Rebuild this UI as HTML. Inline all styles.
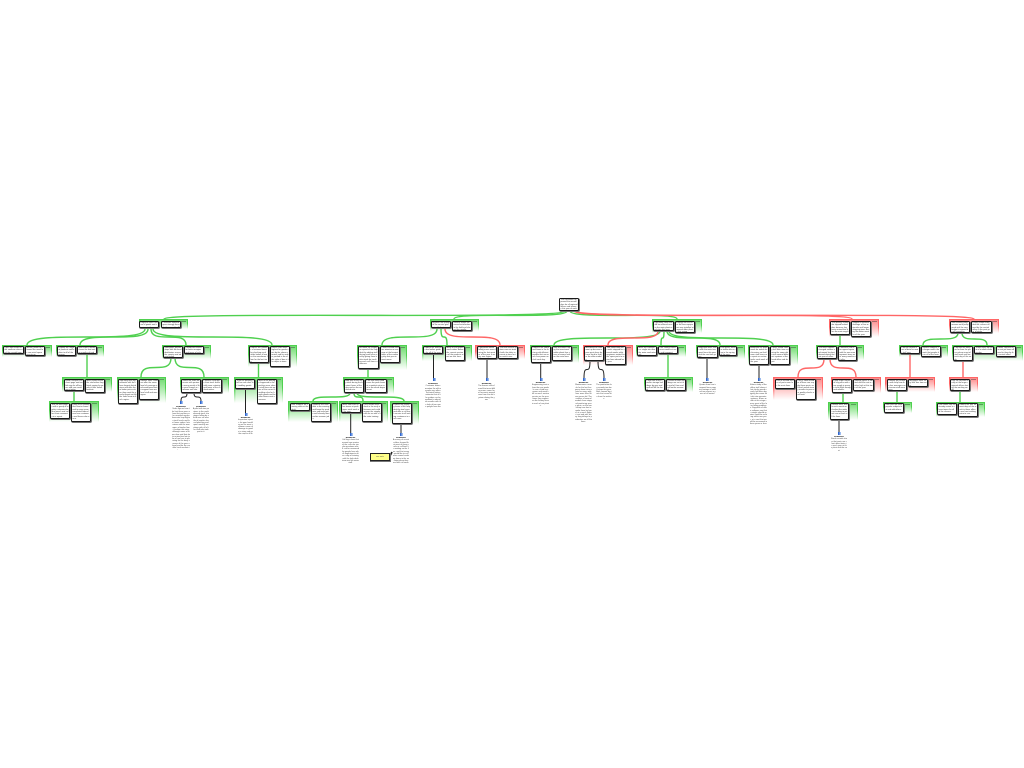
<!DOCTYPE html>
<html lang="en"><head><meta charset="utf-8"><title>Diagram</title>
<style>
html,body{margin:0;padding:0;background:#fff;width:1024px;height:768px;overflow:hidden}
body{position:relative;font-family:"Liberation Sans",sans-serif}
svg{position:absolute;left:0;top:0}
.g,.r{position:absolute;box-sizing:border-box;border-top:1px solid #4fd04f;
background:linear-gradient(#4fd04f 40%,#fff) 0 0/1.5px 100% no-repeat,linear-gradient(#4fd04f 40%,#fff) 100% 0/1.5px 100% no-repeat,linear-gradient(#6fdc6f,#fff)}
.r{border-top-color:#f66;background:linear-gradient(#f66 40%,#fff) 0 0/1.5px 100% no-repeat,linear-gradient(#f66 40%,#fff) 100% 0/1.5px 100% no-repeat,linear-gradient(#ff8a8a,#fff)}
.g:after,.r:after{content:"";position:absolute;right:2px;top:1px;width:5px;height:1px;background:#5a9a5a}
.r:after{background:#a86a6a}
.b{position:absolute;box-sizing:border-box;background:#fff;border:1px solid #1a1a1a;border-radius:1.5px;box-shadow:.6px .6px 0 .4px #777;font-size:2px;line-height:2.3px;padding:.2px .5px;overflow:hidden;color:#333;word-break:break-all}
.n{position:absolute;text-align:center;font-size:2px;line-height:2.3px;overflow:hidden;color:#444;word-break:break-all}
.n b{display:block;color:#000;font-size:2.2px}
.i{position:absolute;width:4px;height:3px;background:linear-gradient(90deg,#fff 20%,#2f66d0 20%,#2f66d0 60%,#9cbcf0 60%)}
.y{position:absolute;left:370px;top:453px;width:20px;height:8px;box-sizing:border-box;background:#ff8;border:1px solid #222;box-shadow:.5px .5px 0 .5px #777;font-size:2px;line-height:6px;text-align:center;color:#555}
</style></head><body>

<div class="g" style="left:139px;top:319px;width:49px;height:10px"></div>
<div class="g" style="left:430px;top:319px;width:49px;height:12px"></div>
<div class="g" style="left:652px;top:319px;width:50px;height:14px"></div>
<div class="r" style="left:829px;top:319px;width:50px;height:18px"></div>
<div class="r" style="left:949px;top:319px;width:50px;height:14px"></div>

<div class="g" style="left:2px;top:345px;width:50px;height:12px"></div>
<div class="g" style="left:56px;top:345px;width:48px;height:12px"></div>
<div class="g" style="left:162px;top:345px;width:49px;height:14px"></div>
<div class="g" style="left:248px;top:345px;width:49px;height:22px"></div>
<div class="g" style="left:357px;top:345px;width:50px;height:25px"></div>
<div class="g" style="left:422px;top:345px;width:50px;height:16px"></div>
<div class="r" style="left:475px;top:345px;width:50px;height:14px"></div>
<div class="g" style="left:530px;top:345px;width:49px;height:18px"></div>
<div class="r" style="left:583px;top:345px;width:50px;height:20px"></div>
<div class="g" style="left:636px;top:345px;width:50px;height:12px"></div>
<div class="g" style="left:696px;top:345px;width:49px;height:14px"></div>
<div class="g" style="left:748px;top:345px;width:50px;height:20px"></div>
<div class="g" style="left:816px;top:345px;width:48px;height:15px"></div>
<div class="g" style="left:899px;top:345px;width:49px;height:12px"></div>
<div class="g" style="left:952px;top:345px;width:71px;height:16px"></div>

<div class="g" style="left:62px;top:377px;width:50px;height:15px"></div>
<div class="g" style="left:117px;top:377px;width:49px;height:26px"></div>
<div class="g" style="left:180px;top:377px;width:49px;height:16px"></div>
<div class="g" style="left:234px;top:377px;width:49px;height:26px"></div>
<div class="g" style="left:343px;top:377px;width:51px;height:17px"></div>
<div class="g" style="left:644px;top:377px;width:49px;height:15px"></div>
<div class="r" style="left:773px;top:377px;width:50px;height:23px"></div>
<div class="r" style="left:831px;top:377px;width:50px;height:16px"></div>
<div class="r" style="left:885px;top:377px;width:50px;height:15px"></div>
<div class="r" style="left:949px;top:377px;width:29px;height:15px"></div>

<div class="g" style="left:49px;top:401px;width:50px;height:21px"></div>
<div class="g" style="left:288px;top:401px;width:50px;height:21px"></div>
<div class="g" style="left:339px;top:401px;width:49px;height:21px"></div>
<div class="g" style="left:390px;top:401px;width:29px;height:23px"></div>
<div class="g" style="left:828px;top:402px;width:30px;height:18px"></div>
<div class="g" style="left:883px;top:402px;width:29px;height:11px"></div>
<div class="g" style="left:936px;top:402px;width:49px;height:15px"></div>

<svg width="1024" height="768" viewBox="0 0 1024 768" fill="none">
<g stroke="#4fd04f" stroke-width="1.4">
<path d="M565 311C565 320 164 311 164 319"/>
<path d="M567 311C567 320 454 311 454 319"/>
<path d="M570 311C570 320 677 311 677 319"/>
<path d="M145 329C145 345 27 329 27 345"/>
<path d="M148 329C148 345 80 329 80 345"/>
<path d="M151 329C151 345 186 329 186 345"/>
<path d="M153 329C153 345 272 329 272 345"/>
<path d="M437 329C437 345 382 329 382 345"/>
<path d="M441 329C441 345 447 329 447 345"/>
<path d="M660 331C660 345 554 331 554 345"/>
<path d="M664 331C664 345 661 331 661 345"/>
<path d="M667 331C667 345 720 331 720 345"/>
<path d="M669 331C669 345 773 331 773 345"/>
<path d="M958 333C958 345 923 333 923 345"/>
<path d="M962 333C962 345 987 333 987 345"/>
<path d="M171 358C171 377 141 358 141 377"/>
<path d="M175 358C175 377 204 358 204 377"/>
<path d="M350 393C350 401 313 393 313 401"/>
<path d="M354 393C354 401 363 393 363 401"/>
<path d="M357 393C357 401 404 393 404 401"/>
<path d="M87 354V377M258.500 363V377M74 391V401M368 369V377M668 354V377M840 335V345M843 393V402M897 391V402M960 391V402"/>
</g>
<g stroke="#f66" stroke-width="1.4">
<path d="M574 311C574 320 852 311 852 319"/>
<path d="M576 311C576 320 974 311 974 319"/>
<path d="M445 329C445 345 500 329 500 345"/>
<path d="M658 331C658 345 608 331 608 345"/>
<path d="M824 359C824 377 798 359 798 377"/>
<path d="M830 359C830 377 856 359 856 377"/>
<path d="M910 354V377M963 361V377"/>
</g>
<g stroke="#222" stroke-width="1">
<path d="M187 393C187 401 181 393 181 401"/>
<path d="M194 393C194 401 201 393 201 401"/>
<path d="M590 361C590 378 584 361 584 378"/>
<path d="M598 361C598 378 604 361 604 378"/>
<path d="M245.500 389V413M433.500 354V378M487 359V378M350.700 413V433M401 424V433M540.700 363V378M707 358V378M759 365V378M839 420V432"/>
<path d="M390 456L392 452" stroke-width="1.600"/>
</g>
</svg>

<div class="b" style="left:559px;top:298px;width:20px;height:13px">The committee approved the annual plan for all regional offices and teams in this year of work.</div>

<div class="b" style="left:139px;top:321px;width:20px;height:7px">Regional sales review of goods and services in the area.</div>
<div class="b" style="left:161px;top:321px;width:20px;height:7px">Customer demand grew strongly through the second half.</div>
<div class="b" style="left:431px;top:321px;width:20px;height:7px">Improve the quality of the service given to all clients.</div>
<div class="b" style="left:452px;top:321px;width:20px;height:10px">Service teams measured satisfaction in the field and shared the results.</div>
<div class="b" style="left:653px;top:321px;width:21px;height:10px">Operating costs should be reduced across the main plants and sites this year.</div>
<div class="b" style="left:675px;top:321px;width:20px;height:12px">Energy use fell after the new equipment was installed at several older plants last spring.</div>
<div class="b" style="left:830px;top:321px;width:20px;height:14px">The delivery schedule slipped behind plan because key parts arrived late from the main supplier in the east.</div>
<div class="b" style="left:851px;top:321px;width:20px;height:16px">Suppliers reported shortage of raw materials and longer shipping times during the winter months of the year.</div>
<div class="b" style="left:950px;top:321px;width:20px;height:12px">Staff training programmes were postponed until the new budget is agreed by all managers.</div>
<div class="b" style="left:971px;top:321px;width:21px;height:12px">Fewer people attended the courses offered by the central office in the past year of study.</div>

<div class="b" style="left:3px;top:346px;width:21px;height:8px">Open new stores in the southern cities and the coastal towns.</div>
<div class="b" style="left:25px;top:346px;width:20px;height:10px">Market research showed the need for new retail space near to us.</div>
<div class="b" style="left:57px;top:346px;width:19px;height:10px">Expand the range of products sold online to all of the buyers.</div>
<div class="b" style="left:77px;top:346px;width:20px;height:8px">Web orders doubled over the last twelve months of trade.</div>
<div class="b" style="left:163px;top:346px;width:20px;height:12px">Strengthen partnerships with the local distributors across the country and abroad today.</div>
<div class="b" style="left:184px;top:346px;width:20px;height:8px">Distributors asked for better margins and terms of sale.</div>
<div class="b" style="left:249px;top:346px;width:20px;height:17px">Reduce the number of returned items by checking each order before it leaves the warehouse floor for the last time.</div>
<div class="b" style="left:270px;top:346px;width:20px;height:21px">Return rates were highest for goods sent by the slower carriers and for orders packed in the older style of box at the depot in town.</div>
<div class="b" style="left:358px;top:346px;width:21px;height:23px">Increase the response speed of the help desk by adding staff during peak hours and by giving them better tools for tracking each call from customers.</div>
<div class="b" style="left:380px;top:346px;width:20px;height:17px">Callers waited over ten minutes on average at the busiest times of the working day last year in most areas.</div>
<div class="b" style="left:423px;top:346px;width:20px;height:8px">Update the manuals and online guides for all of the users.</div>
<div class="b" style="left:445px;top:346px;width:20px;height:15px">Many of the guides were written before the current versions of the products went on sale here.</div>
<div class="b" style="left:477px;top:346px;width:20px;height:13px">Complaints about billing errors rose during the last quarter of the year in every one region.</div>
<div class="b" style="left:498px;top:346px;width:20px;height:13px">The new invoice system was not tested with the older accounts in time for the switch over.</div>
<div class="b" style="left:531px;top:346px;width:20px;height:17px">Replace the oldest machines in the factory with efficient models that use much less power and oil each day.</div>
<div class="b" style="left:552px;top:346px;width:20px;height:15px">New machines repay the investment within about four years of normal use on the main lines.</div>
<div class="b" style="left:584px;top:346px;width:20px;height:15px">Maintenance costs went up because spare parts have become hard to find for the older models.</div>
<div class="b" style="left:605px;top:346px;width:21px;height:19px">Two production lines were stopped for several weeks while engineers waited for the spare parts to arrive from abroad last year.</div>
<div class="b" style="left:637px;top:346px;width:20px;height:10px">Move the storage to a single site near the main road network.</div>
<div class="b" style="left:658px;top:346px;width:20px;height:8px">One central warehouse would cut rent and transport.</div>
<div class="b" style="left:697px;top:346px;width:21px;height:12px">Negotiate lower rates with the main transport firms this year and the next two years.</div>
<div class="b" style="left:719px;top:346px;width:18px;height:10px">Fuel prices remain stable after a rise in the spring of the year.</div>
<div class="b" style="left:749px;top:346px;width:20px;height:19px">Automate the paperwork for orders and invoices so that fewer staff hours are spent on routine tasks each week of the year.</div>
<div class="b" style="left:770px;top:346px;width:20px;height:19px">Clerks spend nearly half their time entering the same data into several different systems at the head office and depot.</div>
<div class="b" style="left:817px;top:346px;width:20px;height:13px">The main supplier changed owners and moved its plant abroad during the last year of sales.</div>
<div class="b" style="left:838px;top:346px;width:19px;height:15px">Contracts had to be agreed again with the new management team over many months of talks.</div>
<div class="b" style="left:900px;top:346px;width:20px;height:8px">Course content is out of date for most staff now.</div>
<div class="b" style="left:921px;top:346px;width:20px;height:11px">Several subjects no longer match the work that people do in all of the teams.</div>
<div class="b" style="left:953px;top:346px;width:20px;height:15px">Courses are held too far from the places where most of staff work and live each day of the week.</div>
<div class="b" style="left:974px;top:346px;width:20px;height:8px">Travel takes up most of a whole working day.</div>
<div class="b" style="left:996px;top:346px;width:20px;height:11px">Online courses have not yet been offered to them by the central office.</div>

<div class="b" style="left:64px;top:379px;width:20px;height:12px">Build a simpler checkout page and mobile app for all buyers and new customers today.</div>
<div class="b" style="left:85px;top:379px;width:20px;height:14px">Most visitors leave the site before they finish paying for goods in their online baskets.</div>
<div class="b" style="left:118px;top:379px;width:20px;height:25px">Sign long term agreements with the three largest distributors and offer them better prices when they meet the yearly targets set by the sales team in each region.</div>
<div class="b" style="left:139px;top:379px;width:20px;height:21px">Smaller firms could not offer the same level of coverage and would need extra support from our local staff and managers.</div>
<div class="b" style="left:181px;top:379px;width:20px;height:14px">Share the sales forecasts with partners every month of the year through a common web site.</div>
<div class="b" style="left:202px;top:379px;width:20px;height:14px">Partners could plan their stock levels with more certainty and fewer of the rushed orders.</div>
<div class="b" style="left:235px;top:379px;width:20px;height:10px">Train the packing staff on new rules for handling goods.</div>
<div class="b" style="left:257px;top:379px;width:20px;height:25px">Most of the damage happened in the packing area, where staff were not aware of the correct handling rules for fragile goods and heavier boxes sent overseas.</div>
<div class="b" style="left:344px;top:379px;width:20px;height:14px">Add staff to the help desk during the busiest hours of the day and on the weekend rota.</div>
<div class="b" style="left:365px;top:379px;width:22px;height:14px">Part time staff could cover the peak hours at a modest extra cost to the whole department.</div>
<div class="b" style="left:645px;top:379px;width:20px;height:12px">Close two of the smaller storage buildings by year end and sell off the land.</div>
<div class="b" style="left:666px;top:379px;width:20px;height:12px">Leases on both buildings run out at the end of June and will not be renewed.</div>
<div class="b" style="left:775px;top:379px;width:20px;height:10px">Find a second source of parts soon for the main lines.</div>
<div class="b" style="left:796px;top:379px;width:20px;height:21px">Only a small number of firms can supply these parts, and each needs many months to pass our quality checks and tests.</div>
<div class="b" style="left:832px;top:379px;width:20px;height:14px">Keep larger stocks of key parts until new supply is proven to be both steady and reliable.</div>
<div class="b" style="left:853px;top:379px;width:21px;height:12px">Storage space is limited and the cost is rather high at this time of the year.</div>
<div class="b" style="left:887px;top:379px;width:20px;height:12px">Rewrite the courses with help from the line managers and senior staff members.</div>
<div class="b" style="left:908px;top:379px;width:20px;height:8px">Managers have very little free time now.</div>
<div class="b" style="left:950px;top:379px;width:20px;height:12px">Run the courses locally at the larger regional offices during the working week.</div>

<div class="b" style="left:50px;top:403px;width:20px;height:16px">Test the new pages with a group of regular customers before launch and collect their comments in a report.</div>
<div class="b" style="left:71px;top:403px;width:20px;height:19px">Early tests showed that shorter forms lead to many more completed orders from new customers and those who return.</div>
<div class="b" style="left:290px;top:403px;width:20px;height:8px">Hire students for evening shifts at the desk.</div>
<div class="b" style="left:311px;top:403px;width:20px;height:19px">Students are available in the evening and know the products and tools quite well already from earlier summer jobs.</div>
<div class="b" style="left:341px;top:403px;width:20px;height:10px">Move staff from other teams at peak times each week of the year.</div>
<div class="b" style="left:362px;top:403px;width:20px;height:19px">Other teams have slack in the early afternoon and could answer the simpler calls for us with a little extra training.</div>
<div class="b" style="left:392px;top:403px;width:20px;height:21px">Extend the opening hours of the help desk by two hours and offer a call back service to all waiting customers in each area.</div>
<div class="b" style="left:830px;top:403px;width:19px;height:17px">Review stock levels each month and adjust the orders according to actual use on each of the lines.</div>
<div class="b" style="left:884px;top:403px;width:20px;height:10px">Start with the most popular subjects first and add others.</div>
<div class="b" style="left:937px;top:403px;width:20px;height:12px">Use rooms that are already rented in those towns for all of the classes.</div>
<div class="b" style="left:958px;top:403px;width:20px;height:14px">Rooms are free on most days of the week in these offices and cost nothing extra to use.</div>

<div class="i" style="left:179px;top:401px"></div>
<div class="n" style="left:172px;top:406px;width:18px;height:44px"><b>Evidence</b>Sales figures from the last three years show that partners who received regular forecasts kept higher stock levels and lost fewer orders. Interviews with the managers of twelve firms confirm this view, although some of them also said that data arrived too late to be of real use in planning for the busy season of the year ahead and for the smaller local markets in the region.</div>
<div class="i" style="left:199px;top:401px"></div>
<div class="n" style="left:193px;top:406px;width:16px;height:27px"><b>Evidence</b>A pilot with two partners in the north showed stock shortages falling by a third over six months of regular shared planning and open monthly meetings with all of the staff who took part in it.</div>
<div class="i" style="left:243.500px;top:413px"></div>
<div class="n" style="left:238px;top:417px;width:15px;height:18px"><b>Evidence</b>Inspection reports list poor handling as the most common cause of damage to goods in store and on the road to all the customers.</div>
<div class="i" style="left:349px;top:433px"></div>
<div class="n" style="left:342px;top:437px;width:17px;height:26px"><b>Evidence</b>Call logs show that around one quarter of the calls are simple questions which can be answered by people from other departments after a day of training with the help desk team and its senior staff.</div>
<div class="i" style="left:399px;top:433px"></div>
<div class="n" style="left:393px;top:437px;width:16px;height:32px"><b>Evidence</b>A survey of recent callers showed that most of them prefer a call back to waiting on the line, and that many would like to call after normal working hours in the evening when they are back at home.</div>
<div class="y">see note</div>
<div class="i" style="left:431.500px;top:378px"></div>
<div class="n" style="left:425px;top:383px;width:16px;height:25px"><b>Evidence</b>Customer letters mention the old manuals very often. Technical writers estimate that all the guides can be updated in about five months with the help of two more people from the team.</div>
<div class="i" style="left:485px;top:378px"></div>
<div class="n" style="left:478px;top:383px;width:17px;height:17px"><b>Evidence</b>The finance office found that most billing errors came from accounts moved over from the old system during the year.</div>
<div class="i" style="left:538.500px;top:378px"></div>
<div class="n" style="left:532px;top:382px;width:17px;height:27px"><b>Evidence</b>Engineering tests show the new models use a third less power and need half as much routine service as the machines they replace on the factory lines in each of our plants.</div>
<div class="i" style="left:582px;top:378px"></div>
<div class="n" style="left:575px;top:382px;width:17px;height:42px"><b>Evidence</b>Maintenance records for the last five years show rising costs for every machine more than fifteen years old. The makers of several models have stopped producing spare parts, so the workshop now has to make them by hand, at a much higher cost and with many long delays to production on all the lines.</div>
<div class="i" style="left:602px;top:378px"></div>
<div class="n" style="left:596px;top:382px;width:16px;height:18px"><b>Evidence</b>The production log records two long stops this year, both caused by parts that came late from the makers.</div>
<div class="i" style="left:705px;top:378px"></div>
<div class="n" style="left:699px;top:382px;width:17px;height:16px"><b>Evidence</b>Quotes from four transport firms suggest savings of around ten percent a year on all routes.</div>
<div class="i" style="left:757px;top:378px"></div>
<div class="n" style="left:750px;top:382px;width:17px;height:45px"><b>Evidence</b>A time study of the office staff shows that clerks spend nearly half their day typing the same details into separate systems. Errors made at this stage cause most of the later billing problems. Suppliers of office software say that a single shared system could be running within one year, at a cost that would be recovered in three years or less.</div>
<div class="i" style="left:837px;top:432px"></div>
<div class="n" style="left:831px;top:436px;width:16px;height:16px"><b>Evidence</b>Stock records show that parts run short about twice in each year at this plant and the next.</div>

</body></html>
